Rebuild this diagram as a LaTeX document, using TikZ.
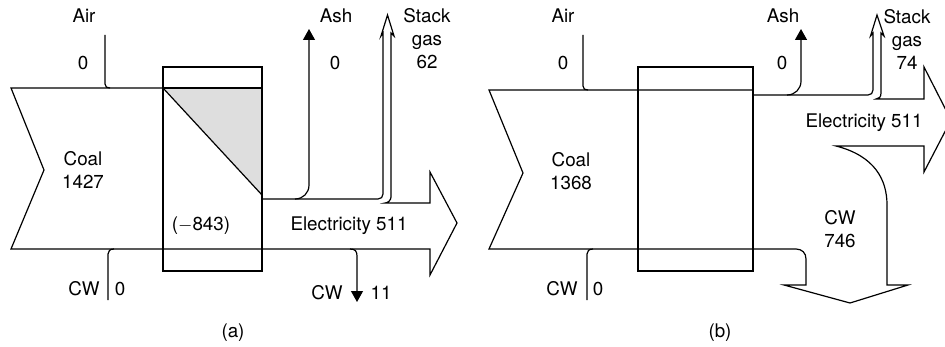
\documentclass[tikz,border=0pt]{standalone}
\usepackage{fontspec}
\setmainfont{TeX Gyre Heros}
\usetikzlibrary{arrows.meta}

\tikzset{
    flow/.style={line width=0.6pt, line join=miter},
    lbl/.style={inner sep=0pt, align=center, font=\fontsize{9.4}{11.5}\selectfont},
    solidtip/.style={-{Triangle[width=6pt,length=5.5pt]}},
    lossfill/.style={fill=black!13},
}

\begin{document}
\begin{tikzpicture}[x=0.5pt,y=-0.5pt]
    \useasboundingbox (0,0) rectangle (945,347);
    \clip (0,0) rectangle (945,347);
    % (a) before
    \fill[lossfill] (163,88) -- (262,88) -- (262,195) -- cycle;
    \draw[flow] (163,88) -- (262,195);
    \draw[flow] (163,88) -- (11,88) -- (44,170) -- (11,249) -- (430,249) -- (430,275)
        -- (457,223) -- (430,172) -- (430,203) -- (385,203)
        .. controls (388,203) and (391,200) .. (391,197) -- (391,33) -- (394,36)
        -- (387.5,15) -- (381,36) -- (383,33) -- (383,194)
        .. controls (383,197) and (381,199) .. (378,199) -- (262,199);
    \draw[line width=1.1pt] (163,88) -- (262,88);
    \draw[flow] (163,67) rectangle (262,271);
    \draw[flow] (105,35) -- (105,84) .. controls (105,87) and (107,88) .. (110,88);
    \draw[flow] (108,300) -- (108,254) .. controls (108,251) and (110,249) .. (114,249);
    \draw[flow,solidtip] (295,199) .. controls (303,199) and (309,193) .. (309,185) -- (309,29);
    \draw[flow,solidtip] (350,249) .. controls (355,249) and (357,251) .. (357,256) -- (357,302);
    \node[lbl] (aira) at (84,16) {Air};
    \node[lbl] (airza) at (83,63) {0};
    \node[lbl] (coala) at (83,170) {Coal\\1427};
    \node[lbl] (losa) at (201,226) {($-$843)};
    \node[lbl] (asha) at (336,16) {Ash};
    \node[lbl] (ashza) at (335,63) {0};
    \node[lbl] (stacka) at (427,39) {Stack\\gas\\62};
    \node[lbl] (eleca) at (349,226) {Electricity 511};
    \node[lbl] (cwina) at (84,289) {CW};
    \node[lbl] (cwinza) at (120,289) {0};
    \node[lbl] (cwouta) at (327,293) {CW};
    \node[lbl] (cwoutva) at (381,293) {11};
    \node[lbl] (capa) at (233,333) {(a)};
    % (b) after
    \draw[flow] (753,90) -- (489,90) -- (523,173) -- (489,249) -- (796,249)
        .. controls (802,249) and (806,253) .. (806,259) -- (806,285) -- (784,285)
        -- (850,303) -- (908,285) -- (887,285) -- (887,205)
        .. controls (887,180) and (875,156) .. (836,146) -- (924,146) -- (924,172)
        -- (951,120) -- (924,67) -- (924,99) -- (876,99)
        .. controls (879,99) and (881,97) .. (881,93) -- (881,33) -- (884,36)
        -- (877,15) -- (870.5,36) -- (873,33) -- (873,90)
        .. controls (873,93) and (871,95) .. (868,95) -- (753,95);
    \draw[flow] (638,67) rectangle (753,271);
    \draw[flow] (583,35) -- (583,86) .. controls (583,89) and (585,90) .. (588,90);
    \draw[flow] (587,300) -- (587,254) .. controls (587,251) and (589,249) .. (593,249);
    \draw[flow,solidtip] (787,95) .. controls (795,95) and (801,89) .. (801,81) -- (801,29);
    \node[lbl] (airb) at (563,16) {Air};
    \node[lbl] (airzb) at (563,63) {0};
    \node[lbl] (coalb) at (571,171) {Coal\\1368};
    \node[lbl] (ashb) at (783,16) {Ash};
    \node[lbl] (ashzb) at (782,63) {0};
    \node[lbl] (stackb) at (907,39) {Stack\\gas\\74};
    \node[lbl] (elecb) at (864,123) {Electricity 511};
    \node[lbl] (cwoutb) at (840,229) {CW\\746};
    \node[lbl] (cwinb) at (562,289) {CW};
    \node[lbl] (cwinzb) at (598,289) {0};
    \node[lbl] (capb) at (720,333) {(b)};
\end{tikzpicture}
\end{document}
